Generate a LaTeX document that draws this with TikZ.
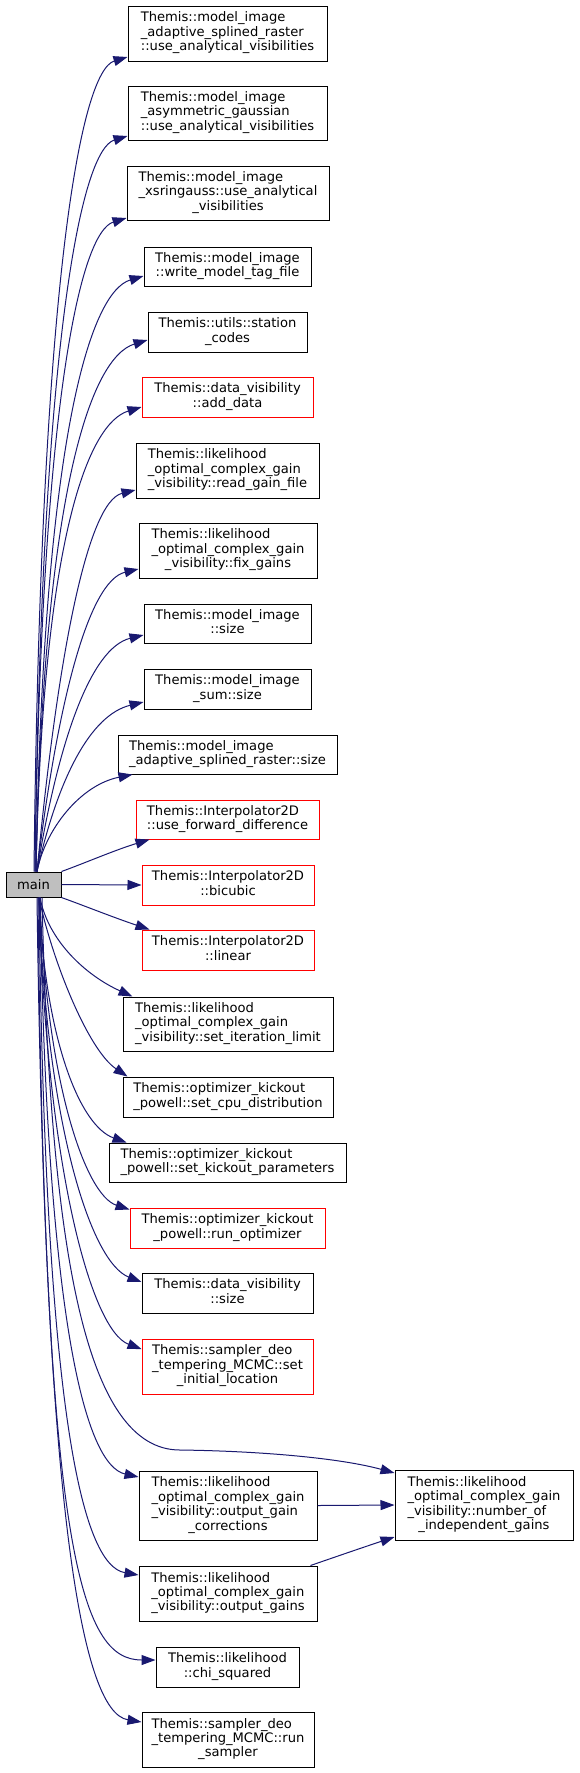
\documentclass[tikz,border=0pt]{standalone}
\usepackage{fontspec}
\setmainfont{DejaVu Sans}
\usetikzlibrary{arrows.meta}
\definecolor{edgecol}{HTML}{191970}
\definecolor{mainfill}{HTML}{BFBFBF}
\newcommand\lab[2]{\begin{tabular}{@{}l@{}}#1\\\multicolumn{1}{@{}c@{}}{#2}\end{tabular}}
\begin{document}
\begin{tikzpicture}[x=1pt,y=-1pt,
  fn/.style={draw=black, line width=1pt, inner sep=0pt, font=\fontsize{13.1}{14.4}\selectfont, anchor=center},
  redfn/.style={fn, draw=red},
  edge/.style={draw=edgecol, line width=1pt, -{Triangle[length=14pt,width=10pt]}}]
\fill[white] (0,0) rectangle (579,1773);
\useasboundingbox (0,0) rectangle (579,1773);

\node[fn, fill=mainfill, minimum width=55pt, minimum height=25pt] (main) at (33.5,884.5) {main};

\node[fn, minimum width=199pt, minimum height=55pt] (n1) at (227.5,33.5) {\lab{Themis::model\_image\\\_adaptive\_splined\_raster}{::use\_analytical\_visibilities}};
\node[fn, minimum width=199pt, minimum height=54pt] (n2) at (227.5,113) {\lab{Themis::model\_image\\\_asymmetric\_gaussian}{::use\_analytical\_visibilities}};
\node[fn, minimum width=202pt, minimum height=54pt] (n3) at (228,193) {\lab{Themis::model\_image\\\_xsringauss::use\_analytical}{\_visibilities}};
\node[fn, minimum width=167pt, minimum height=39pt] (n4) at (227.5,266.5) {\lab{Themis::model\_image}{::write\_model\_tag\_file}};
\node[fn, minimum width=159pt, minimum height=40pt] (n5) at (227.5,332) {\lab{Themis::utils::station}{\_codes}};
\node[redfn, minimum width=171pt, minimum height=40pt] (n6) at (227.5,397) {\lab{Themis::data\_visibility}{::add\_data}};
\node[fn, minimum width=183pt, minimum height=55pt] (n7) at (227.5,470.5) {\lab{Themis::likelihood\\\_optimal\_complex\_gain}{\_visibility::read\_gain\_file}};
\node[fn, minimum width=178pt, minimum height=55pt] (n8) at (228,550.5) {\lab{Themis::likelihood\\\_optimal\_complex\_gain}{\_visibility::fix\_gains}};
\node[fn, minimum width=167pt, minimum height=39pt] (n9) at (227.5,623.5) {\lab{Themis::model\_image}{::size}};
\node[fn, minimum width=167pt, minimum height=40pt] (n10) at (227.5,689) {\lab{Themis::model\_image}{\_sum::size}};
\node[fn, minimum width=219pt, minimum height=39pt] (n11) at (227.5,754.5) {\lab{Themis::model\_image}{\_adaptive\_splined\_raster::size}};
\node[redfn, minimum width=183pt, minimum height=39pt] (n12) at (227.5,819.5) {\lab{Themis::Interpolator2D}{::use\_forward\_difference}};
\node[redfn, minimum width=172pt, minimum height=40pt] (n13) at (228,885) {\lab{Themis::Interpolator2D}{::bicubic}};
\node[redfn, minimum width=172pt, minimum height=40pt] (n14) at (228,950) {\lab{Themis::Interpolator2D}{::linear}};
\node[fn, minimum width=210pt, minimum height=54pt] (n15) at (228,1024) {\lab{Themis::likelihood\\\_optimal\_complex\_gain}{\_visibility::set\_iteration\_limit}};
\node[fn, minimum width=210pt, minimum height=40pt] (n16) at (228,1097) {\lab{Themis::optimizer\_kickout}{\_powell::set\_cpu\_distribution}};
\node[fn, minimum width=237pt, minimum height=39pt] (n17) at (227.5,1162.5) {\lab{Themis::optimizer\_kickout}{\_powell::set\_kickout\_parameters}};
\node[redfn, minimum width=195pt, minimum height=40pt] (n18) at (227.5,1228) {\lab{Themis::optimizer\_kickout}{\_powell::run\_optimizer}};
\node[fn, minimum width=171pt, minimum height=40pt] (n19) at (227.5,1293) {\lab{Themis::data\_visibility}{::size}};
\node[redfn, minimum width=171pt, minimum height=55pt] (n20) at (227.5,1366.5) {\lab{Themis::sampler\_deo\\\_tempering\_MCMC::set}{\_initial\_location}};
\node[fn, minimum width=178pt, minimum height=69pt] (n21) at (228,1505.5) {\lab{Themis::likelihood\\\_optimal\_complex\_gain\\\_visibility::output\_gain}{\_corrections}};
\node[fn, minimum width=178pt, minimum height=55pt] (n22) at (228,1593.5) {\lab{Themis::likelihood\\\_optimal\_complex\_gain}{\_visibility::output\_gains}};
\node[fn, minimum width=143pt, minimum height=40pt] (n23) at (227.5,1667) {\lab{Themis::likelihood}{::chi\_squared}};
\node[fn, minimum width=172pt, minimum height=55pt] (n24) at (228,1739.5) {\lab{Themis::sampler\_deo\\\_tempering\_MCMC::run}{\_sampler}};
\node[fn, minimum width=178pt, minimum height=70pt] (n25) at (484,1505) {\lab{Themis::likelihood\\\_optimal\_complex\_gain\\\_visibility::number\_of}{\_independent\_gains}};

% upward edges
\draw[edge] ([xshift=0.5pt]main.north) .. controls (40.6,277) and (81,71) .. ([yshift=-23.5pt]n1.west);
\draw[edge] ([xshift=1.5pt]main.north) .. controls (41.5,335) and (81.5,150) .. ([yshift=-23pt]n2.west);
\draw[edge] ([xshift=1.5pt]main.north) .. controls (41.4,395) and (81,232) .. ([yshift=-25pt]n3.west);
\draw[edge] ([xshift=2.5pt]main.north) .. controls (43.6,437) and (90,292) .. ([yshift=-9.5pt]n4.west);
\draw[edge] ([xshift=2.5pt]main.north) .. controls (43.8,484) and (92,357) .. ([yshift=-8pt]n5.west);
\draw[edge] ([xshift=2.5pt]main.north) .. controls (43,533) and (89,423) .. ([yshift=-10pt]n6.west);
\draw[edge] ([xshift=3.5pt]main.north) .. controls (57,662) and (86.5,502) .. ([yshift=-19.5pt]n7.west);
\draw[edge] ([xshift=3.5pt]main.north) .. controls (57,705) and (88,581) .. ([yshift=-18.5pt]n8.west);
\draw[edge] ([xshift=3.5pt]main.north) .. controls (58,742) and (90.5,648) .. ([yshift=-11.5pt]n9.west);
\draw[edge] ([xshift=3.5pt]main.north) .. controls (58,778) and (90.5,715) .. ([yshift=-13pt]n10.west);
\draw[edge] ([xshift=3.5pt]main.north) .. controls (45,830) and (80,785) .. ([xshift=15pt]n11.south west);
\draw[edge] (main.north east) .. controls (85,863) and (115,850) .. ([xshift=14pt]n12.south west);
\draw[edge] (main.east) -- (n13.west);
\draw[edge] (main.south east) .. controls (85,906) and (115,918) .. ([xshift=8pt]n14.north west);
% downward edges
\draw[edge] ([xshift=6.5pt]main.south) .. controls (48,940) and (85,975) .. ([xshift=10pt]n15.north west);
\draw[edge] ([xshift=5.5pt]main.south) .. controls (52,960) and (88,1050) .. ([xshift=5pt]n16.north west);
\draw[edge] ([xshift=5.5pt]main.south) .. controls (45,1040) and (80,1126) .. ([xshift=18pt]n17.north west);
\draw[edge] ([xshift=6.5pt]main.south) .. controls (46,1080) and (85,1195) .. ([yshift=-2pt]n18.north west);
\draw[edge] ([xshift=5.5pt]main.south) .. controls (46,1120) and (90,1262) .. ([yshift=11pt]n19.west);
\draw[edge] ([xshift=5.5pt]main.south) .. controls (46,1160) and (90,1330) .. ([yshift=17.5pt]n20.west);
\draw[edge] ([xshift=6.5pt]main.south) .. controls (47,1320) and (85,1465) .. ([yshift=28.5pt]n21.west);
\draw[edge] ([xshift=5.5pt]main.south) .. controls (45,1400) and (80,1565) .. ([yshift=18.5pt]n22.west);
\draw[edge] ([xshift=4.5pt]main.south) .. controls (45,1550) and (80,1660) .. ([yshift=7pt]n23.west);
\draw[edge] ([xshift=3.5pt]main.south) .. controls (45,1500) and (80,1712) .. ([yshift=17.5pt]n24.west);
\draw[edge] ([xshift=8.5pt]main.south) .. controls (50,1250) and (85,1450) .. (180,1450)
   .. controls (260,1451) and (340,1458) .. ([yshift=32pt]n25.west);
\draw[edge] (n21.east) -- (n25.west);
\draw[edge] ([xshift=-7pt]n22.north east) .. controls (335,1557) and (370,1545) .. ([yshift=-32pt]n25.west);
\end{tikzpicture}
\end{document}
